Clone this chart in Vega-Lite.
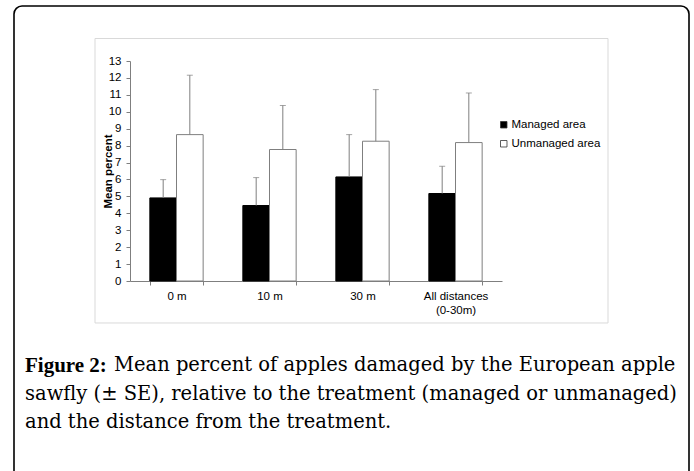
{
  "$schema": "https://vega.github.io/schema/vega-lite/v6.json",
  "width": 372,
  "height": 220,
  "autosize": {"type": "none"},
  "padding": {"left": 130, "top": 61, "right": 192, "bottom": 190},
  "background": "white",
  "config": {
    "view": {"stroke": null},
    "font": "Liberation Sans",
    "axisY": {
      "grid": false,
      "labelOverlap": false,
      "domainColor": "#7f7f7f",
      "tickColor": "#7f7f7f",
      "tickSize": 4,
      "labelPadding": 5,
      "labelFont": "Liberation Sans",
      "labelFontSize": 11.5,
      "labelColor": "#000000",
      "titleFont": "Liberation Sans",
      "titleFontSize": 11.5,
      "titleFontWeight": "bold",
      "titleColor": "#000000",
      "titlePadding": -5
    }
  },
  "title": {
    "text": "Figure 2:",
    "subtitle": [
      "sawfly (± SE), relative to the treatment (managed or unmanaged)",
      "and the distance from the treatment."
    ],
    "orient": "bottom",
    "anchor": "start",
    "frame": "group",
    "dx": -105,
    "offset": -126,
    "font": "Liberation Serif",
    "fontSize": 21,
    "fontWeight": "bold",
    "color": "#000000",
    "subtitleFont": "DejaVu Serif",
    "subtitleFontSize": 19.5,
    "subtitleColor": "#000000",
    "subtitleLineHeight": 27.5,
    "subtitlePadding": 9.5
  },
  "layer": [
    {
      "data": {"values": [{}]},
      "mark": {"type": "rect", "fill": null, "stroke": "#000000", "strokeWidth": 1.6, "cornerRadius": 8},
      "encoding": {
        "x": {
          "datum": 0,
          "type": "quantitative",
          "scale": {"domain": [0, 1], "range": [-116, 559], "nice": false, "zero": false},
          "axis": {
            "orient": "bottom",
            "domain": false,
            "ticks": false,
            "labels": false,
            "grid": false,
            "title": "Mean percent of apples damaged by the European apple",
            "titleFont": "DejaVu Serif",
            "titleFontSize": 19.5,
            "titleFontWeight": "normal",
            "titleColor": "#000000",
            "titleAlign": "left",
            "titleAnchor": "start",
            "titleBaseline": "alphabetic",
            "titleX": -16.5,
            "titleY": 89.5
          }
        },
        "x2": {"datum": 1},
        "y": {"datum": 16.25, "type": "quantitative", "title": "Mean percent", "axis": {"values": [0, 1, 2, 3, 4, 5, 6, 7, 8, 9, 10, 11, 12, 13]}},
        "y2": {"datum": -11.76}
      }
    },
    {
      "data": {"values": [{}]},
      "mark": {"type": "rect", "fill": null, "stroke": "#d9d9d9", "strokeWidth": 1},
      "encoding": {
        "x": {"datum": 0, "type": "quantitative", "scale": {"domain": [0, 1], "range": [-35, 478], "nice": false, "zero": false}, "axis": null},
        "x2": {"datum": 1},
        "y": {"datum": 14.33, "type": "quantitative", "title": "Mean percent", "axis": {"values": [0, 1, 2, 3, 4, 5, 6, 7, 8, 9, 10, 11, 12, 13]}},
        "y2": {"datum": -2.48}
      }
    },
    {
      "data": {
        "values": [
          {"distance": "0 m", "area": "Managed area", "mean": 4.91, "upper": 5.99},
          {"distance": "0 m", "area": "Unmanaged area", "mean": 8.65, "upper": 12.16},
          {"distance": "10 m", "area": "Managed area", "mean": 4.46, "upper": 6.11},
          {"distance": "10 m", "area": "Unmanaged area", "mean": 7.77, "upper": 10.37},
          {"distance": "30 m", "area": "Managed area", "mean": 6.15, "upper": 8.65},
          {"distance": "30 m", "area": "Unmanaged area", "mean": 8.26, "upper": 11.31},
          {"distance": "All distances (0-30m)", "area": "Managed area", "mean": 5.17, "upper": 6.78},
          {"distance": "All distances (0-30m)", "area": "Unmanaged area", "mean": 8.18, "upper": 11.11}
        ]
      },
      "encoding": {
        "x": {
          "field": "distance",
          "type": "nominal",
          "sort": null,
          "scale": {"paddingInner": 0.427, "paddingOuter": 0.2135},
          "axis": {
            "orient": "bottom",
            "title": null,
            "labelAngle": 0,
            "tickBand": "extent",
            "domainColor": "#7f7f7f",
            "tickColor": "#7f7f7f",
            "tickSize": 4,
            "labelPadding": 5,
            "labelFont": "Liberation Sans",
            "labelFontSize": 11.5,
            "labelColor": "#000000",
            "labelLineHeight": 14,
            "labelExpr": "datum.value == 'All distances (0-30m)' ? ['All distances', '(0-30m)'] : datum.label"
          }
        },
        "xOffset": {
          "field": "area",
          "type": "nominal",
          "sort": ["Managed area", "Unmanaged area"],
          "scale": {"paddingInner": 0, "paddingOuter": 0}
        }
      },
      "layer": [
        {
          "mark": {"type": "bar", "strokeWidth": 1},
          "encoding": {
            "y": {
              "field": "mean",
              "type": "quantitative",
              "title": "Mean percent",
              "scale": {"domain": [0, 13], "nice": false, "zero": true},
              "axis": {"values": [0, 1, 2, 3, 4, 5, 6, 7, 8, 9, 10, 11, 12, 13]}
            },
            "color": {
              "field": "area",
              "type": "nominal",
              "scale": {"domain": ["Managed area", "Unmanaged area"], "range": ["#000000", "#ffffff"]},
              "legend": {
                "title": null,
                "orient": "none",
                "legendX": 368,
                "legendY": 58,
                "symbolType": "square",
                "symbolSize": 42,
                "symbolStrokeColor": "#333333",
                "symbolStrokeWidth": 0.8,
                "labelFont": "Liberation Sans",
                "labelFontSize": 11.5,
                "labelColor": "#000000",
                "labelOffset": 2,
                "rowPadding": 6
              }
            },
            "stroke": {
              "condition": {"test": "datum.area === 'Managed area'", "value": "#000000"},
              "value": "#7f7f7f"
            }
          }
        },
        {
          "mark": {"type": "rule", "color": "#7f7f7f", "strokeWidth": 1},
          "encoding": {
            "y": {"field": "mean", "type": "quantitative", "title": "Mean percent", "axis": {"values": [0, 1, 2, 3, 4, 5, 6, 7, 8, 9, 10, 11, 12, 13]}},
            "y2": {"field": "upper"}
          }
        },
        {
          "mark": {"type": "tick", "color": "#7f7f7f", "size": 6, "thickness": 1},
          "encoding": {
            "y": {"field": "upper", "type": "quantitative", "title": "Mean percent", "axis": {"values": [0, 1, 2, 3, 4, 5, 6, 7, 8, 9, 10, 11, 12, 13]}}
          }
        }
      ]
    }
  ],
  "resolve": {"scale": {"x": "independent"}}
}
